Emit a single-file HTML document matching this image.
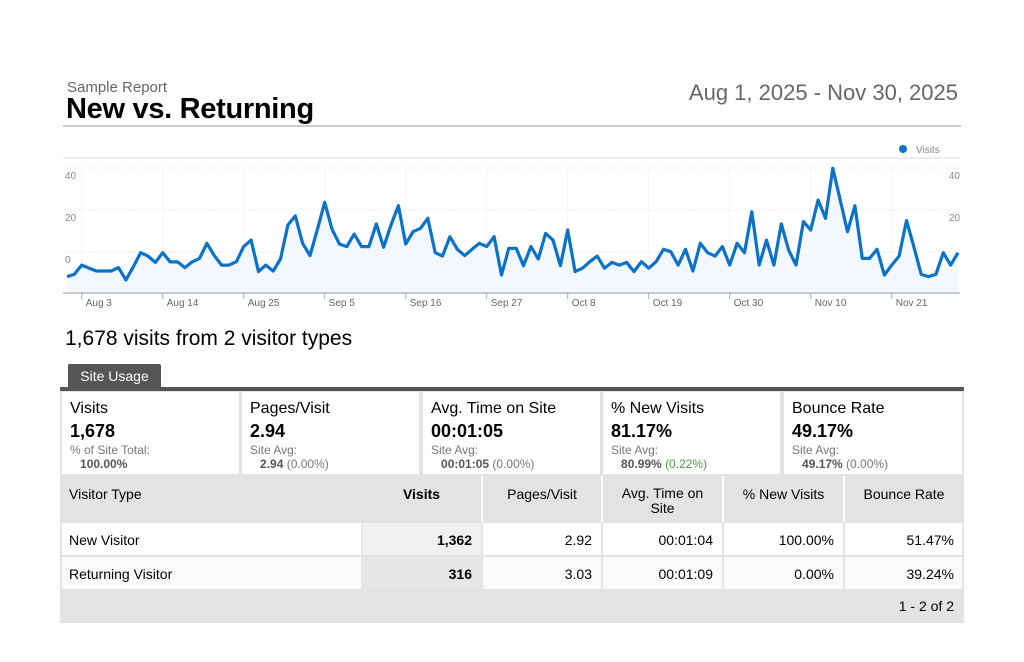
<!DOCTYPE html>
<html><head><meta charset="utf-8">
<style>
*{margin:0;padding:0;box-sizing:border-box}
body{width:1024px;height:662px;background:#fff;font-family:"Liberation Sans",sans-serif;position:relative;overflow:hidden;color:#000}
.a{position:absolute}
.cell{position:absolute;background:#fff}
.sl{font-size:16px;position:absolute;left:8px;top:8px}
.sv{font-size:18px;font-weight:bold;position:absolute;left:8px;top:29px}
.ss{font-size:12px;color:#777;position:absolute;left:8px;top:51px;line-height:14px}
.ss b{color:#555}
.td{position:absolute;font-size:14px;line-height:33px;padding:0 9px}
</style></head><body>
<div class="a" style="left:67px;top:79px;font-size:15px;color:#666">Sample Report</div>
<div class="a" style="left:66px;top:93px;font-size:29px;font-weight:bold;letter-spacing:-0.3px">New vs. Returning</div>
<div class="a" style="right:66px;top:80px;font-size:22px;color:#666">Aug 1, 2025 - Nov 30, 2025</div>
<div class="a" style="left:63px;top:125px;width:898px;height:2px;background:#ccc"></div>

<svg class="a" style="left:0;top:135px" width="1024" height="180" viewBox="0 135 1024 180" id="chart"></svg>

<div class="a" style="left:65px;top:327px;font-size:21px">1,678 visits from 2 visitor types</div>
<div class="a" style="left:68px;top:364px;width:93px;height:24px;background:#555;color:#fff;font-size:14px;line-height:25px;text-align:center;border-radius:2px 2px 0 0">Site Usage</div>
<div class="a" style="left:60px;top:387px;width:904px;height:236px;background:#e3e3e3"></div>
<div class="a" style="left:60px;top:387px;width:904px;height:4px;background:#555"></div>

<div class="cell" style="left:62px;top:392px;width:177px;height:82px"><div class="sl">Visits</div><div class="sv">1,678</div><div class="ss">% of Site Total:<br>&nbsp;&nbsp;&nbsp;<b>100.00%</b></div></div>
<div class="cell" style="left:242px;top:392px;width:177px;height:82px"><div class="sl">Pages/Visit</div><div class="sv">2.94</div><div class="ss">Site Avg:<br>&nbsp;&nbsp;&nbsp;<b>2.94</b> (0.00%)</div></div>
<div class="cell" style="left:423px;top:392px;width:177px;height:82px"><div class="sl">Avg. Time on Site</div><div class="sv">00:01:05</div><div class="ss">Site Avg:<br>&nbsp;&nbsp;&nbsp;<b>00:01:05</b> (0.00%)</div></div>
<div class="cell" style="left:603px;top:392px;width:177px;height:82px"><div class="sl">% New Visits</div><div class="sv">81.17%</div><div class="ss">Site Avg:<br>&nbsp;&nbsp;&nbsp;<b>80.99%</b> <span style="color:#4a9a4a">(0.22%)</span></div></div>
<div class="cell" style="left:784px;top:392px;width:178px;height:82px"><div class="sl">Bounce Rate</div><div class="sv">49.17%</div><div class="ss">Site Avg:<br>&nbsp;&nbsp;&nbsp;<b>49.17%</b> (0.00%)</div></div>

<div class="td" style="left:60px;top:478px">Visitor Type</div>
<div class="td" style="left:362px;top:478px;width:119px;text-align:center;font-weight:bold">Visits</div>
<div class="a" style="left:481px;top:476px;width:2px;height:46px;background:#fff"></div>
<div class="td" style="left:483px;top:478px;width:118px;text-align:center">Pages/Visit</div>
<div class="a" style="left:601px;top:476px;width:2px;height:46px;background:#fff"></div>
<div class="a" style="left:603px;top:486px;width:119px;text-align:center;font-size:14px;line-height:15px">Avg. Time on<br>Site</div>
<div class="a" style="left:722px;top:476px;width:2px;height:46px;background:#fff"></div>
<div class="td" style="left:724px;top:478px;width:119px;text-align:center">% New Visits</div>
<div class="a" style="left:843px;top:476px;width:2px;height:46px;background:#fff"></div>
<div class="td" style="left:845px;top:478px;width:118px;text-align:center">Bounce Rate</div>

<div class="cell" style="left:62px;top:523px;width:299px;height:32px"></div>
<div class="cell" style="background:#f0f0f0;left:362px;top:523px;width:119px;height:32px"></div>
<div class="cell" style="left:483px;top:523px;width:118px;height:32px"></div>
<div class="cell" style="left:603px;top:523px;width:119px;height:32px"></div>
<div class="cell" style="left:724px;top:523px;width:119px;height:32px"></div>
<div class="cell" style="left:845px;top:523px;width:117px;height:32px"></div>
<div class="td" style="left:60px;top:524px">New Visitor</div>
<div class="td" style="left:362px;top:524px;width:119px;text-align:right;font-weight:bold">1,362</div>
<div class="td" style="left:483px;top:524px;width:118px;text-align:right">2.92</div>
<div class="td" style="left:603px;top:524px;width:119px;text-align:right">00:01:04</div>
<div class="td" style="left:724px;top:524px;width:119px;text-align:right">100.00%</div>
<div class="td" style="left:845px;top:524px;width:118px;text-align:right">51.47%</div>

<div class="cell" style="background:#fafafa;left:62px;top:557px;width:299px;height:32px"></div>
<div class="cell" style="background:#e6e6e6;left:362px;top:557px;width:119px;height:32px"></div>
<div class="cell" style="background:#fafafa;left:483px;top:557px;width:118px;height:32px"></div>
<div class="cell" style="background:#fafafa;left:603px;top:557px;width:119px;height:32px"></div>
<div class="cell" style="background:#fafafa;left:724px;top:557px;width:119px;height:32px"></div>
<div class="cell" style="background:#fafafa;left:845px;top:557px;width:117px;height:32px"></div>
<div class="td" style="left:60px;top:558px">Returning Visitor</div>
<div class="td" style="left:362px;top:558px;width:119px;text-align:right;font-weight:bold">316</div>
<div class="td" style="left:483px;top:558px;width:118px;text-align:right">3.03</div>
<div class="td" style="left:603px;top:558px;width:119px;text-align:right">00:01:09</div>
<div class="td" style="left:724px;top:558px;width:119px;text-align:right">0.00%</div>
<div class="td" style="left:845px;top:558px;width:118px;text-align:right">39.24%</div>
<div class="td" style="right:61px;top:590px;text-align:right">1 - 2 of 2</div>

<script>
const visits=[-8.4,-7.3,-2.9,-4.4,-5.7,-5.7,-5.7,-4.1,-10,-3.7,3.0,1.4,-1.6,3.0,-1.4,-1.4,-4.1,-1.4,0.3,7.5,1.6,-2.9,-2.9,-1.3,5.9,9.0,-6.0,-2.9,-5.7,0,16.2,20.5,7.5,1.6,14.1,27,14.1,7.1,5.9,11.9,5.9,
5.9,16.7,5.6,16.2,25.4,7.1,13,14.6,19.4,3.0,1.4,10.6,4.6,1.6,4.6,7.5,5.9,10.6,-7.6,5.1,5.1,-3.2,5.9,0,12.2,9.0,-3.2,13.8,-6.0,-4.4,-1.3,1.4,-4.4,-1.6,-2.9,-1.6,-6.0,-1.3,-4.4,-1.3,
4.6,3.5,-2.9,4.6,-5.7,7.5,3.0,1.4,5.9,-2.9,7.5,3.0,22.5,-2.9,9.0,-2.9,16.7,4.3,-2.9,17.8,13.8,28.1,19.4,43.2,28.1,13,25.4,0.3,0.3,4.6,-7.6,-2.9,1.4,18.3,5.9,-7.3,-8.4,-7.3,3.0,-2.9,3.0];
const yTicks=[0,20,40];
const xLabels=["Aug 3","Aug 14","Aug 25","Sep 5","Sep 16","Sep 27","Oct 8","Oct 19","Oct 30","Nov 10","Nov 21"];
const xLabelDays=[2,13,24,35,46,57,68,79,90,101,112];
const NS="http://www.w3.org/2000/svg";
const svg=document.getElementById('chart');
const x=d=>67+d*(891/121);
const y=v=>259-2.1*v;
const base=293;
function mk(t,a){const e=document.createElementNS(NS,t);for(const k in a)e.setAttribute(k,a[k]);svg.appendChild(e);return e;}
let e=mk('line',{x1:63,x2:960,y1:158,y2:158,stroke:'#eee','stroke-width':2});


yTicks.forEach(t=>{
 const g=mk('line',{x1:63,x2:960,y1:y(t)-7,y2:y(t)-7,stroke:'#ececec','stroke-dasharray':'3,2'});
 
 
 const l=mk('text',{x:65,y:y(t)+4,'font-size':10,fill:'#888','font-family':'Liberation Sans'});l.textContent=t;
 
 
 if(t>0){const r=mk('text',{x:960,y:y(t)+4,'font-size':10,fill:'#888','text-anchor':'end','font-family':'Liberation Sans'});r.textContent=t;
 
 }
});
xLabels.forEach((lab,i)=>{
 const xx=x(xLabelDays[i]);
 const g=mk('line',{x1:xx,x2:xx,y1:168,y2:base,stroke:'#f2f2f2'});
 
 
 const tk=mk('line',{x1:xx,x2:xx,y1:base,y2:base+6,stroke:'#aaa'});
 
 
 const t=mk('text',{x:xx+4,y:base+13,'font-size':10,fill:'#666','font-family':'Liberation Sans'});t.textContent=lab;
 
 
});
const pts=visits.map((v,i)=>x(i).toFixed(1)+','+y(v).toFixed(1));
const area=mk('path',{d:'M'+x(0)+','+base+' L'+pts.join(' L')+' L'+x(visits.length-1)+','+base+' Z',fill:'#f2f8fd'});


const ax=mk('line',{x1:63,x2:960,y1:base,y2:base,stroke:'#999'});


const ln=mk('polyline',{points:pts.join(' '),fill:'none',stroke:'#0b72c8','stroke-width':3.2,'stroke-linejoin':'round'});


const dot=mk('circle',{cx:903,cy:149,r:4,fill:'#0b72c8'});


const lt=mk('text',{x:916,y:153,'font-size':10,fill:'#888','font-family':'Liberation Sans'});lt.textContent='Visits';


</script>
</body></html>
